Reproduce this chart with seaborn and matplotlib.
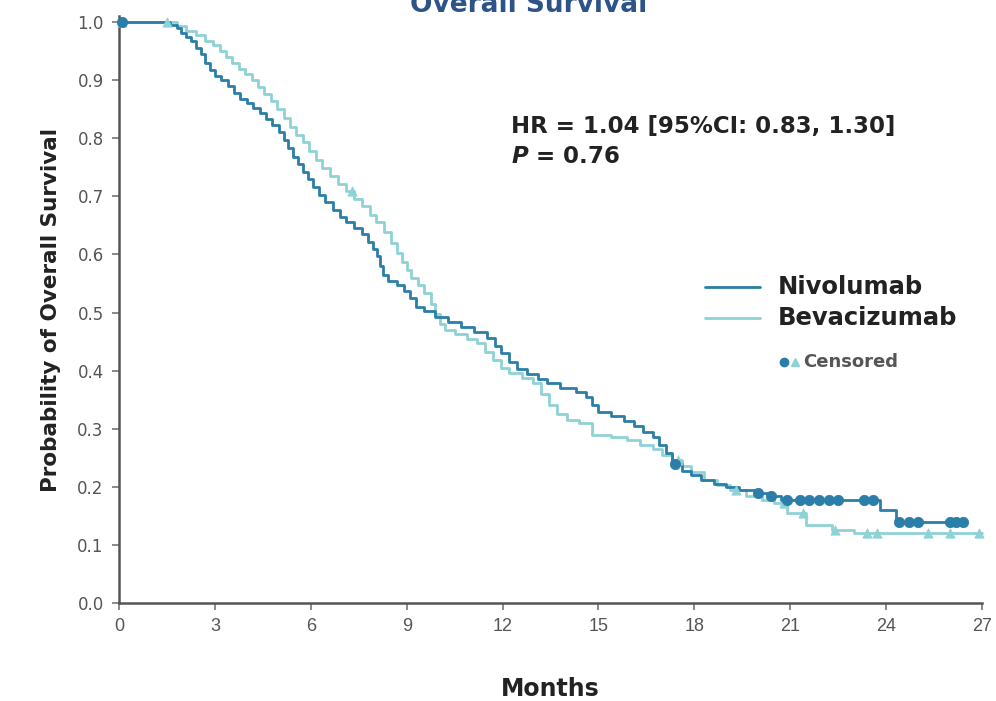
import numpy as np
import pandas as pd
import matplotlib
matplotlib.use("Agg")
import matplotlib.pyplot as plt
from matplotlib.lines import Line2D
import seaborn as sns

# Kaplan-Meier step data (months, survival probability after each step)
nivo_t = [0, 1.6, 1.8, 1.95, 2.1, 2.25, 2.4, 2.55, 2.7, 2.85, 3.0, 3.2, 3.4, 3.6, 3.8,
          4.0, 4.2, 4.4, 4.6, 4.8, 5.0, 5.15, 5.3, 5.45, 5.6, 5.75, 5.9, 6.07, 6.25,
          6.45, 6.7, 6.9, 7.1, 7.35, 7.6, 7.8, 7.95, 8.07, 8.15, 8.25, 8.4, 8.7, 8.9,
          9.1, 9.3, 9.55, 9.9, 10.3, 10.7, 11.1, 11.5, 11.75, 11.95, 12.2, 12.45,
          12.75, 13.1, 13.4, 13.8, 14.3, 14.6, 14.8, 15.0, 15.4, 15.8, 16.1, 16.4,
          16.7, 16.9, 17.1, 17.3, 17.6, 17.9, 18.2, 18.6, 19.0, 19.4, 19.9, 20.3,
          20.7, 23.8, 24.3, 26.5]
nivo_s = [1.0, 0.995, 0.99, 0.982, 0.975, 0.967, 0.955, 0.945, 0.93, 0.918, 0.908,
          0.90, 0.89, 0.878, 0.868, 0.86, 0.852, 0.843, 0.834, 0.822, 0.81, 0.797,
          0.783, 0.768, 0.755, 0.742, 0.73, 0.716, 0.703, 0.69, 0.676, 0.665, 0.655,
          0.645, 0.635, 0.622, 0.61, 0.598, 0.58, 0.565, 0.555, 0.547, 0.537, 0.525,
          0.51, 0.502, 0.493, 0.483, 0.475, 0.466, 0.457, 0.443, 0.43, 0.415, 0.403,
          0.394, 0.385, 0.378, 0.37, 0.363, 0.355, 0.34, 0.328, 0.322, 0.314, 0.305,
          0.295, 0.285, 0.272, 0.258, 0.24, 0.228, 0.22, 0.212, 0.205, 0.199, 0.194,
          0.189, 0.184, 0.178, 0.16, 0.139, 0.139]

beva_t = [0, 1.8, 2.1, 2.4, 2.7, 2.95, 3.15, 3.35, 3.55, 3.75, 3.95, 4.15, 4.35, 4.55,
          4.75, 4.95, 5.15, 5.35, 5.55, 5.75, 5.95, 6.15, 6.35, 6.6, 6.85, 7.1, 7.35,
          7.6, 7.85, 8.05, 8.3, 8.5, 8.7, 8.85, 9.0, 9.15, 9.35, 9.55, 9.75, 9.9,
          10.05, 10.2, 10.5, 10.9, 11.2, 11.45, 11.7, 11.95, 12.2, 12.6, 12.95, 13.2,
          13.45, 13.7, 14.0, 14.4, 14.8, 15.4, 15.9, 16.3, 16.7, 17.0, 17.3, 17.6,
          17.9, 18.3, 18.7, 19.1, 19.6, 20.1, 20.5, 20.9, 21.5, 22.3, 23.0, 27.0]
beva_s = [1.0, 0.993, 0.985, 0.977, 0.968, 0.96, 0.95, 0.94, 0.93, 0.92, 0.91, 0.90,
          0.888, 0.876, 0.864, 0.85, 0.835, 0.82, 0.806, 0.793, 0.778, 0.762, 0.748,
          0.735, 0.722, 0.71, 0.695, 0.683, 0.668, 0.655, 0.638, 0.62, 0.602, 0.587,
          0.573, 0.56, 0.547, 0.533, 0.515, 0.498, 0.48, 0.47, 0.463, 0.455, 0.447,
          0.432, 0.418, 0.405, 0.396, 0.387, 0.379, 0.36, 0.34, 0.325, 0.315, 0.31,
          0.29, 0.285, 0.28, 0.272, 0.265, 0.255, 0.247, 0.235, 0.225, 0.212, 0.203,
          0.195, 0.185, 0.178, 0.172, 0.155, 0.134, 0.126, 0.12, 0.12]

# Censoring marks
nivo_cens_t = [0.1, 17.4, 20.0, 20.4, 20.9, 21.3, 21.6, 21.9, 22.2, 22.5, 23.3, 23.6,
               24.4, 24.7, 25.0, 26.0, 26.2, 26.4]
nivo_cens_s = [1.0, 0.24, 0.189, 0.184, 0.178, 0.178, 0.178, 0.178, 0.178, 0.178,
               0.178, 0.178, 0.139, 0.139, 0.139, 0.139, 0.139, 0.139]
beva_cens_t = [0.1, 1.5, 7.3, 17.5, 19.3, 20.8, 21.4, 22.4, 23.4, 23.7, 25.3, 26.0, 26.9]
beva_cens_s = [1.0, 1.0, 0.71, 0.247, 0.195, 0.172, 0.155, 0.126, 0.12, 0.12, 0.12,
               0.12, 0.12]

x_ticks = [0, 3, 6, 9, 12, 15, 18, 21, 24, 27]
y_ticks = [0.0, 0.1, 0.2, 0.3, 0.4, 0.5, 0.6, 0.7, 0.8, 0.9, 1.0]

NIVO = "#2b7ea8"
BEVA = "#8ed2d6"
TEXT_GRAY = "#555555"
BOLD_FONT = ["DejaVu Sans"]

sns.set_theme(style="white")
plt.rcParams["font.family"] = ["Liberation Sans", "DejaVu Sans"]

curves = pd.concat([
    pd.DataFrame({"Months": beva_t, "Survival": beva_s, "Arm": "Bevacizumab"}),
    pd.DataFrame({"Months": nivo_t, "Survival": nivo_s, "Arm": "Nivolumab"}),
])

fig = plt.figure(figsize=(9.96, 7.01), dpi=100)
ax = fig.add_axes([0.1195, 0.1398, 0.8665, 0.837])

for arm, color, lw in [("Bevacizumab", BEVA, 2.0), ("Nivolumab", NIVO, 2.0)]:
    sub = curves[curves["Arm"] == arm]
    sns.lineplot(data=sub, x="Months", y="Survival", ax=ax, color=color, lw=lw,
                 drawstyle="steps-post", estimator=None, sort=False, legend=False,
                 clip_on=False)

sns.scatterplot(x=beva_cens_t, y=beva_cens_s, ax=ax, marker="^", s=45, color=BEVA,
                edgecolor=BEVA, legend=False, zorder=4, clip_on=False)
sns.scatterplot(x=nivo_cens_t, y=nivo_cens_s, ax=ax, marker="o", s=55, color=NIVO,
                edgecolor=NIVO, legend=False, zorder=5, clip_on=False)

ax.set_xlim(0, 27)
ax.set_ylim(0, 1.01)
ax.set_xticks(x_ticks)
ax.set_xticklabels([str(v) for v in x_ticks])
ax.set_yticks(y_ticks)
ax.set_yticklabels([f"{v:.1f}" for v in y_ticks])

for side in ["top", "right"]:
    ax.spines[side].set_visible(False)
for side in ["left", "bottom"]:
    ax.spines[side].set_color("#555555")
    ax.spines[side].set_linewidth(1.8)
ax.tick_params(axis="both", which="major", direction="out", length=5, width=1.2,
               color="#777777", labelcolor=TEXT_GRAY, pad=6, left=True, bottom=True)
ax.tick_params(axis="x", labelsize=13)
ax.tick_params(axis="y", labelsize=12)
for lab in ax.get_yticklabels():
    lab.set_family(BOLD_FONT)

ax.set_xlabel("Months", fontsize=17, fontweight="bold", color="#222222", labelpad=30,
              family=BOLD_FONT)
ax.set_ylabel("Probability of Overall Survival", fontsize=15.5, fontweight="bold",
              color="#222222", labelpad=12, family=BOLD_FONT)

fig.text(0.531, 1 - 12 / 701, "Overall Survival", ha="center", va="baseline",
         fontsize=19, fontweight="bold", color="#2d5389", family=BOLD_FONT)

ax.text(12.25, 0.82, "HR = 1.04 [95%CI: 0.83, 1.30]", fontsize=16.5, fontweight="bold",
        color="#222222", ha="left", va="center", family=BOLD_FONT)
ax.text(12.25, 0.768, r"$\bfit{P}$" + " = 0.76", fontsize=16.5, fontweight="bold",
        color="#222222", ha="left", va="center", family=BOLD_FONT)

# Legend drawn as axis annotations
leg_x0, leg_x1 = 18.33, 20.06
for yv, color, label in [(0.544, NIVO, "Nivolumab"), (0.49, BEVA, "Bevacizumab")]:
    ax.add_line(Line2D([leg_x0, leg_x1], [yv, yv], color=color, lw=2.0))
    ax.text(20.62, yv, label, fontsize=17.5, fontweight="bold", color="#222222",
            ha="left", va="center", family=BOLD_FONT)
ax.plot([20.8], [0.415], marker="o", ms=6, color=NIVO, ls="none")
ax.plot([21.15], [0.415], marker="^", ms=5.5, color=BEVA, ls="none")
ax.text(21.4, 0.415, "Censored", fontsize=13, fontweight="bold", color="#555555",
        ha="left", va="center", family=BOLD_FONT)

fig.savefig("out.png", dpi=100, facecolor="white")
